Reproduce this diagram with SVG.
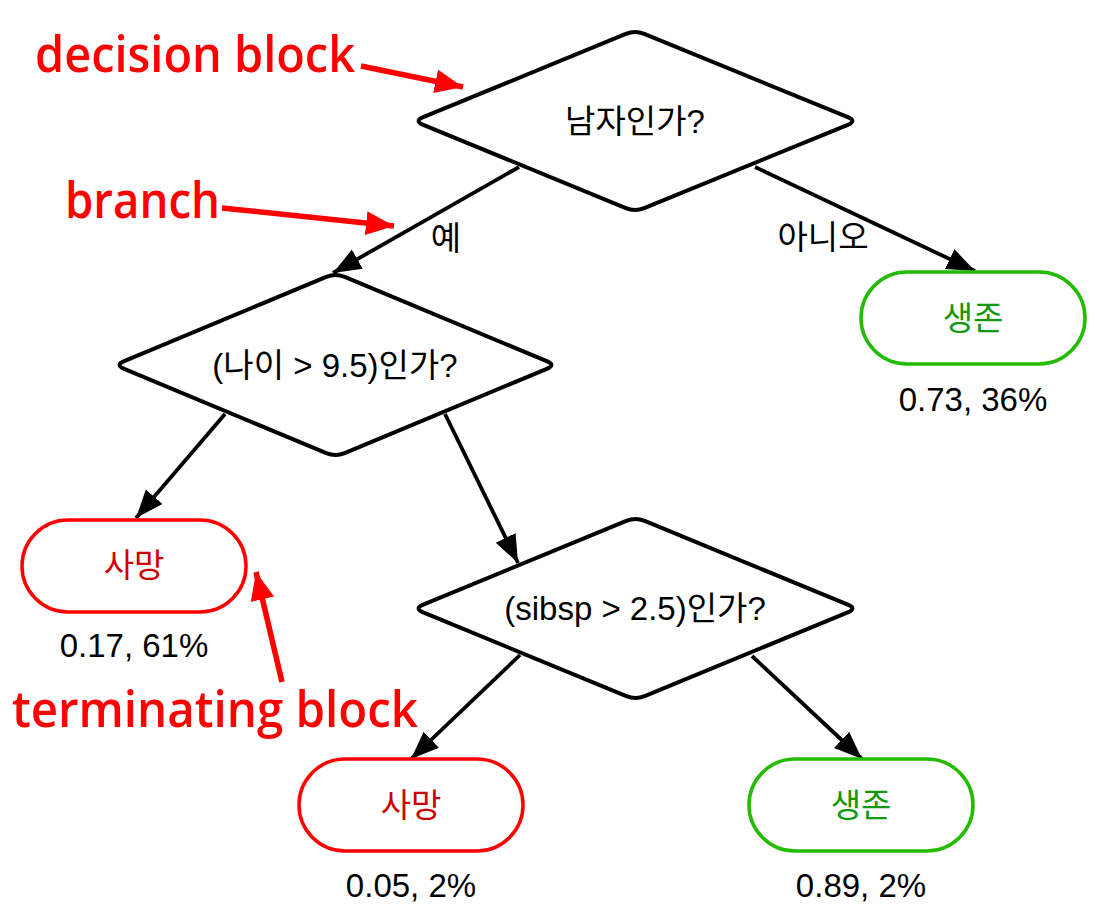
<svg xmlns="http://www.w3.org/2000/svg" width="1104" height="915" viewBox="0 0 1104 915">
<style>
.dia{fill:#fff;stroke:#000;stroke-width:4;stroke-linejoin:round}
.t{font-family:"Liberation Sans","Noto Sans CJK KR",sans-serif;font-size:33px;fill:#000;text-anchor:middle}
.death rect{fill:#fff;stroke:#ff0000;stroke-width:3.5}
.death text{fill:#cc0000}
.live rect{fill:#fff;stroke:#22bb00;stroke-width:3.5}
.live text{fill:#119911}
.edge{stroke:#000;stroke-width:3.8;fill:none}
.ann{font-family:"Open Sans","Noto Sans CJK KR",sans-serif;font-weight:600;fill:#ff0000;font-size:50px}
.annline{stroke:#ff0000;stroke-width:5.5;fill:none}
</style>
<defs>
<marker id="ah" markerUnits="userSpaceOnUse" markerWidth="30" markerHeight="24" refX="28" refY="11" orient="auto">
<path d="M0,0 L28,11 L0,22 z" fill="#000"/>
</marker>
<marker id="rah" markerUnits="userSpaceOnUse" markerWidth="30" markerHeight="28" refX="28" refY="12" orient="auto">
<path d="M0,0 L28,12 L0,24 z" fill="#ff0000"/>
</marker>
</defs>

<g id="connectors">
<line class="edge" x1="519" y1="167" x2="333" y2="273" marker-end="url(#ah)"/>
<line class="edge" x1="755" y1="167" x2="975" y2="271" marker-end="url(#ah)"/>
<line class="edge" x1="225" y1="414" x2="136" y2="518" marker-end="url(#ah)"/>
<line class="edge" x1="445" y1="414" x2="518" y2="563" marker-end="url(#ah)"/>
<line class="edge" x1="520" y1="655" x2="411" y2="759" marker-end="url(#ah)"/>
<line class="edge" x1="752" y1="656" x2="862" y2="759" marker-end="url(#ah)"/>
<text class="t" x="446" y="250">예</text>
<text class="t" x="823" y="249">아니오</text>
</g>

<g id="q1">
<path class="dia" d="M423.2,117.2 L625.8,33.8 Q635,30 644.2,33.8 L847.8,117.2 Q857,121 847.8,124.8 L644.2,208.2 Q635,212 625.8,208.2 L423.2,124.8 Q414,121 423.2,117.2 Z"/>
<text class="t" x="635" y="133">남자인가?</text>
</g>
<g id="q2">
<path class="dia" d="M124.2,361.2 L326.3,276.8 Q335.5,273 344.7,276.8 L546.8,361.2 Q556,365 546.8,368.8 L344.7,453.2 Q335.5,457 326.3,453.2 L124.2,368.8 Q115,365 124.2,361.2 Z"/>
<text class="t" x="335" y="377">(나이 &gt; 9.5)인가?</text>
</g>
<g id="q3">
<path class="dia" d="M423.2,604.7 L626.3,520.8 Q635.5,517 644.7,520.8 L847.8,604.7 Q857,608.5 847.8,612.3 L644.7,696.2 Q635.5,700 626.3,696.2 L423.2,612.3 Q414,608.5 423.2,604.7 Z"/>
<text class="t" x="635" y="620">(sibsp &gt; 2.5)인가?</text>
</g>

<g id="live1" class="live">
<rect x="861" y="272" width="224" height="92" rx="46"/>
<text class="t" x="973" y="330">생존</text>
</g>
<text class="t" x="973" y="411">0.73, 36%</text>

<g id="death1" class="death">
<rect x="22" y="520" width="224" height="92" rx="46"/>
<text class="t" x="134" y="577">사망</text>
</g>
<text class="t" x="134" y="657">0.17, 61%</text>

<g id="death2" class="death">
<rect x="299" y="759" width="224" height="92" rx="46"/>
<text class="t" x="411" y="817">사망</text>
</g>
<text class="t" x="411" y="897">0.05, 2%</text>

<g id="live2" class="live">
<rect x="749" y="759" width="224" height="92" rx="46"/>
<text class="t" x="861" y="817">생존</text>
</g>
<text class="t" x="861" y="897">0.89, 2%</text>

<g id="annotations">
<text class="ann" x="35" y="72" textLength="320" lengthAdjust="spacingAndGlyphs">decision block</text>
<line class="annline" x1="361" y1="66" x2="463" y2="87" marker-end="url(#rah)"/>
<text class="ann" x="65" y="218" textLength="155" lengthAdjust="spacingAndGlyphs">branch</text>
<line class="annline" x1="222" y1="208" x2="394" y2="226" marker-end="url(#rah)"/>
<text class="ann" x="12" y="727" textLength="406" lengthAdjust="spacingAndGlyphs">terminating block</text>
<line class="annline" x1="282" y1="682" x2="256" y2="572" marker-end="url(#rah)"/>
</g>
</svg>
